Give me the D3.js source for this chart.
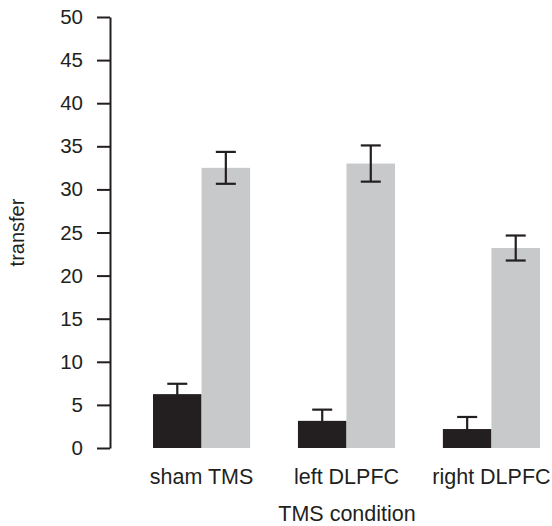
<!DOCTYPE html>
<html>
<head>
<meta charset="utf-8">
<script src="https://cdn.jsdelivr.net/npm/d3@7"></script>
<style>
  body { margin: 0; background: #fff; }
  text { font-family: "Liberation Sans", Arial, sans-serif; fill: #231f20; }
</style>
</head>
<body>
<svg id="chart" width="552" height="526"></svg>
<script>
// conditions on the x axis
var conditions = ["sham TMS", "left DLPFC", "right DLPFC"];
// two bars per condition: dark then light
var series = ["dark", "light"];
var darkValues = [6.25, 3.15, 2.2];
var darkErrors = [1.2, 1.3, 1.4];
var lightValues = [32.5, 33.0, 23.2];
var lightErrors = [1.85, 2.1, 1.45];
var yTicks = [0, 5, 10, 15, 20, 25, 30, 35, 40, 45, 50];

var ink = "#231f20";
var colors = { dark: "#231f20", light: "#c8c9cb" };

var svg = d3.select("#chart");

var rows = [];
conditions.forEach(function(c, i){
	rows.push({cond: c, s: "dark", v: darkValues[i], e: darkErrors[i]});
	rows.push({cond: c, s: "light", v: lightValues[i], e: lightErrors[i]});
});

var x0 = d3.scaleBand().domain(conditions).range([153, 540]).paddingInner(0.33);
var x1 = d3.scaleBand().domain(series).range([0, x0.bandwidth()]);
var y = d3.scaleLinear().domain([0, 50]).range([448, 17]);

// bars
svg.append("g").selectAll("rect").data(rows).enter()
	.append("rect")
	.attr("x", function(d){ return x0(d.cond) + x1(d.s); })
	.attr("y", function(d){ return y(d.v); })
	.attr("width", x1.bandwidth())
	.attr("height", function(d){ return y(0) - y(d.v); })
	.attr("fill", function(d){ return colors[d.s]; });

// error bars
var capW = 10;
var err = svg.append("g").attr("stroke", ink).attr("stroke-width", 2.2)
	.selectAll("g").data(rows).enter().append("g")
	.attr("transform", function(d){ return "translate(" + (x0(d.cond) + x1(d.s) + x1.bandwidth() / 2) + ",0)"; });
err.append("line")
	.attr("y1", function(d){ return y(d.v - d.e); })
	.attr("y2", function(d){ return y(d.v + d.e); });
err.append("line").attr("x1", -capW).attr("x2", capW)
	.attr("y1", function(d){ return y(d.v + d.e); })
	.attr("y2", function(d){ return y(d.v + d.e); });
err.append("line").attr("x1", -capW).attr("x2", capW)
	.attr("y1", function(d){ return y(d.v - d.e); })
	.attr("y2", function(d){ return y(d.v - d.e); });

// y axis
var yAxis = svg.append("g")
	.attr("transform", "translate(110,0)")
	.call(d3.axisLeft(y).tickValues(yTicks).tickSize(13).tickSizeOuter(0).tickPadding(14));
yAxis.selectAll("path, line").attr("stroke", ink).attr("stroke-width", 2);
yAxis.selectAll("text").attr("font-size", 20.5).attr("fill", ink)
	.style("font-family", '"Liberation Sans", Arial, sans-serif');

// category labels
svg.append("g").selectAll("text").data(conditions).enter()
	.append("text")
	.attr("x", function(d){ return x0(d) + x0.bandwidth() / 2; })
	.attr("y", 484)
	.attr("text-anchor", "middle")
	.attr("font-size", 21.5)
	.text(function(d){ return d; });

svg.append("text")
	.attr("x", 347).attr("y", 521)
	.attr("text-anchor", "middle")
	.attr("font-size", 21.5)
	.text("TMS condition");

svg.append("text")
	.attr("transform", "translate(24," + y(25) + ") rotate(-90)")
	.attr("text-anchor", "middle")
	.attr("font-size", 20)
	.text("transfer");
</script>
</body>
</html>
